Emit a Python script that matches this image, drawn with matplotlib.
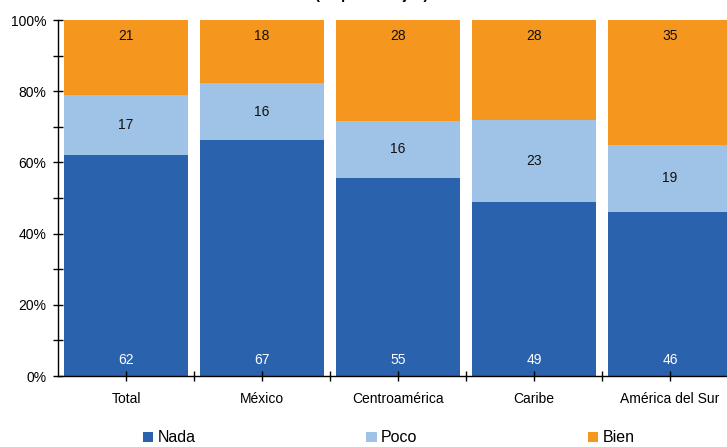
import matplotlib
matplotlib.use("Agg")
import matplotlib.pyplot as plt
import numpy as np

categories = ["Total", "México", "Centroamérica", "Caribe", "América del Sur"]
nada = [62, 67, 55, 49, 46]
poco = [17, 16, 16, 23, 19]
bien = [21, 18, 28, 28, 35]
series_names = ["Nada", "Poco", "Bien"]
colors = ["#2A62AE", "#9FC3E7", "#F5971F"]
title_text = "(en porcentajes)"

plt.rcParams['font.family'] = ['Liberation Sans', 'DejaVu Sans']

W, H = 727, 447
fig = plt.figure(figsize=(W / 100, H / 100), dpi=100)
ax = fig.add_axes([58 / W, (H - 376) / H, 680 / W, 356 / H])

vals = np.array([nada, poco, bien], dtype=float)
tot = vals.sum(axis=0)
pct = vals / tot * 100
x = np.arange(len(categories))
width = 0.91
bottom = np.zeros(len(categories))
bars = []
for i in range(3):
    b = ax.bar(x, pct[i], width, bottom=bottom, color=colors[i], label=series_names[i], linewidth=0)
    bars.append(b)
    for j in range(len(categories)):
        if i == 0:
            ax.text(x[j], bottom[j] + 4.5, str(int(vals[i][j])), ha='center', va='center',
                    color='white', fontsize=10)
        elif i == 1:
            ax.text(x[j], bottom[j] + pct[i][j] / 2, str(int(vals[i][j])), ha='center', va='center',
                    color='#111111', fontsize=10)
        else:
            ax.text(x[j], 95.6, str(int(vals[i][j])), ha='center', va='center',
                    color='#111111', fontsize=10)
    bottom = bottom + pct[i]

ax.set_xlim(-0.5, 4.5)
ax.set_ylim(0, 100)
ax.set_yticks(np.arange(0, 101, 20))
ax.set_yticklabels([f"{v}%" for v in range(0, 101, 20)], fontsize=10)
ax.set_yticks(np.arange(10, 100, 20), minor=True)
ax.set_xticks(x)
ax.set_xticklabels(categories, fontsize=10)
ax.set_xticks(np.arange(0.5, 4.5, 1), minor=True)
ax.tick_params(axis='both', which='both', direction='inout', length=7, width=1, color='black')
ax.tick_params(axis='x', which='major', pad=8)
ax.tick_params(axis='y', which='major', pad=5)
for s in ['top', 'right']:
    ax.spines[s].set_visible(False)
for s in ['left', 'bottom']:
    ax.spines[s].set_linewidth(1)
    ax.spines[s].set_color('black')

fig.legend(handles=bars, labels=series_names, loc='center left', bbox_to_anchor=(143 / W, 1 - 438 / H),
           ncol=3, frameon=False, fontsize=11.5, handlelength=0.65, handleheight=0.65,
           handletextpad=0.25, columnspacing=10.7, borderaxespad=0, borderpad=0)

fig.text(372 / W, 1 + 1 / H, title_text, ha='center', va='baseline', fontsize=10.5, fontweight='bold')

fig.savefig("out.png", dpi=100)
